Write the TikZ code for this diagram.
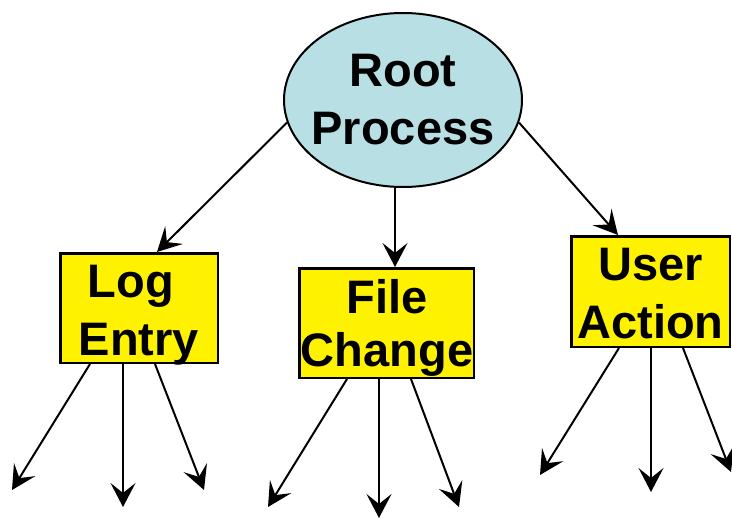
\documentclass[tikz,border=0pt]{standalone}
\usepackage{fontspec}
\setmainfont{Liberation Sans}
\usetikzlibrary{arrows.meta,shapes.geometric,calc}
\definecolor{rootblue}{RGB}{184,224,228}
\begin{document}
\begin{tikzpicture}[x=1pt,y=-1pt,
  arr/.style={line width=2pt,-{Stealth[length=24pt,width=25pt,inset=10pt]}},
  boxnode/.style={draw,line width=2.5pt,fill=yellow,inner sep=0pt},
  lbl/.style={align=center,inner sep=0pt,font=\bfseries\fontsize{47}{58}\selectfont}]
\useasboundingbox (0,0) rectangle (732,519);
% shapes
\node[ellipse,draw,line width=2pt,fill=rootblue,minimum width=238pt,minimum height=174pt,inner sep=0pt] (root) at (403,100) {};
\node[boxnode,minimum width=157.5pt,minimum height=109.5pt] (logbox) at (139,308) {};
\node[boxnode,minimum width=174.5pt,minimum height=109.5pt] (filebox) at (386.5,323) {};
\node[boxnode,minimum width=158.5pt,minimum height=110.5pt] (userbox) at (650.5,291.5) {};
% labels
\node[lbl] (roottxt) at (403,100) {Root\\Process};
\node[lbl] (logtxt) at (139,315) {Log\kern16pt\\Entry};
\node[lbl,font=\bfseries\fontsize{47}{53}\selectfont] (filetxt) at (387,328) {File\\Change};
\node[lbl] (usertxt) at (650.5,294) {User\\Action};
% free ends
\coordinate (l1) at (12,490);
\coordinate (l2) at (123,507);
\coordinate (l3) at (204,490);
\coordinate (f1) at (268,507);
\coordinate (f2) at (379,518);
\coordinate (f3) at (459,507);
\coordinate (u1) at (540,475);
\coordinate (u2) at (651,492);
\coordinate (u3) at (731,472);
% connectors from root
\draw[arr] (root.191) -- ($(logbox.north)+(18,0)$);
\draw[arr] ($(root.south)+(-8,0)$) -- ($(filebox.north)+(8.5,0)$);
\draw[arr] (root.349) -- ($(userbox.north)+(-32.5,0)$);
% children
\draw[arr] ($(logbox.south)+(-49,0)$) -- (l1);
\draw[arr] ($(logbox.south)+(-16,0)$) -- (l2);
\draw[arr] ($(logbox.south)+(16,0)$) -- (l3);
\draw[arr] ($(filebox.south)+(-39.5,0)$) -- (f1);
\draw[arr] ($(filebox.south)+(-7.5,0)$) -- (f2);
\draw[arr] ($(filebox.south)+(24.5,0)$) -- (f3);
\draw[arr] ($(userbox.south)+(-31.5,0)$) -- (u1);
\draw[arr] ($(userbox.south)+(0.5,0)$) -- (u2);
\draw[arr] ($(userbox.south)+(32.5,0)$) -- (u3);
\end{tikzpicture}
\end{document}
